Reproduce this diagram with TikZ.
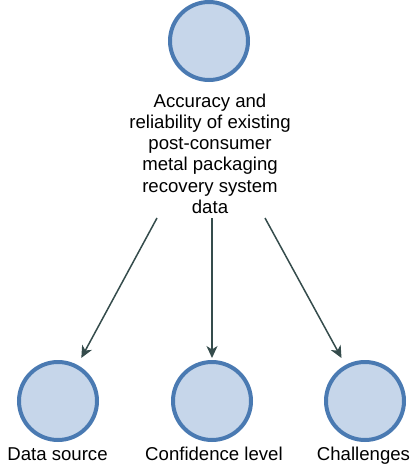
\documentclass[tikz,border=0pt]{standalone}
\usepackage{fontspec}
\setmainfont{Liberation Sans}
\usetikzlibrary{arrows.meta}
\definecolor{discfill}{HTML}{C6D6EA}
\definecolor{discedge}{HTML}{4A7AB2}
\definecolor{linkcol}{HTML}{354C4C}
\tikzset{
  disc/.style={circle, draw=discedge, fill=discfill, line width=4pt,
    minimum size=78pt, inner sep=0pt},
  caption/.style={font=\fontsize{18.6}{21.3}\selectfont, text=black,
    inner sep=0pt, align=center},
  link/.style={draw=linkcol, line width=1.5pt,
    -{Stealth[length=12pt, width=11pt, inset=3.5pt]}},
}
\begin{document}
\begin{tikzpicture}[x=1pt, y=-1pt]
\useasboundingbox (0,0) rectangle (414,465);

% top concept
\node[disc] (top) at (209,41) {};
\node[caption, anchor=north] (topcap) at (210,93.4)
  {Accuracy and\\reliability of existing\\post-consumer\\metal packaging\\recovery system\\data};

% three sub-concepts
\node[disc] (c1) at (58,401) {};
\node[disc] (c2) at (212,401) {};
\node[disc] (c3) at (365,401) {};
\node[caption, anchor=base] (l1) at (57.5,460) {Data source};
\node[caption, anchor=base] (l2) at (214,460) {Confidence level};
\node[caption, anchor=base] (l3) at (363.5,460) {Challenges};

% starting points below the caption
\coordinate (s1) at (157,218);
\coordinate (s2) at (212,218);
\coordinate (s3) at (265,218);

\draw[link, shorten >=8pt] (s1) -- (c1);
\draw[link, shorten >=2pt] (s2) -- (c2);
\draw[link, shorten >=8pt] (s3) -- (c3);
\end{tikzpicture}
\end{document}
